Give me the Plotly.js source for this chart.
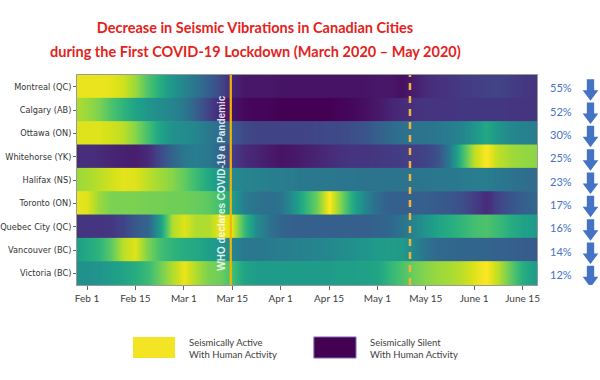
<!DOCTYPE html>
<html>
<head>
<meta charset="utf-8">
<script src="https://cdn.plot.ly/plotly-3.0.1.min.js"></script>
<style>html,body{margin:0;padding:0;background:#fff;}#chart{width:600px;height:380px;}</style>
</head>
<body>
<div id="chart"></div>
<script>
// ---- Data ----
const cities = ['Montreal (QC)', 'Calgary (AB)', 'Ottawa (ON)', 'Whitehorse (YK)', 'Halifax (NS)',
                'Toronto (ON)', 'Quebec City (QC)', 'Vancouver (BC)', 'Victoria (BC)'];
const decreasePct = ['55%', '52%', '30%', '25%', '23%', '17%', '16%', '14%', '12%'];
const tickLabels = ['Feb 1', 'Feb 15', 'Mar 1', 'Mar 15', 'Apr 1', 'Apr 15', 'May 1', 'May 15', 'June 1', 'June 15'];

// normalized seismic vibration level (0 = silent, 1 = active), ~3.5-day samples from late Jan to mid June
const montreal   = [0.97,0.97,0.97,0.96,0.93,0.85,0.72,0.62,0.52,0.45,0.38,0.30,0.22,0.10,0.06,0.06,0.06,0.05,0.05,0.05,0.05,0.05,0.05,0.05,0.05,0.06,0.06,0.04,0.08,0.12,0.14,0.15,0.17,0.18,0.19,0.20,0.18,0.16,0.15];
const calgary    = [0.88,0.85,0.80,0.72,0.65,0.58,0.52,0.48,0.45,0.40,0.30,0.20,0.10,0.05,0.02,0.01,0.01,0.00,0.00,0.00,0.00,0.00,0.01,0.02,0.04,0.06,0.10,0.12,0.14,0.15,0.15,0.15,0.16,0.16,0.16,0.16,0.15,0.15,0.15];
const ottawa     = [0.95,0.95,0.95,0.93,0.90,0.82,0.70,0.58,0.50,0.48,0.45,0.40,0.35,0.28,0.22,0.20,0.20,0.20,0.20,0.20,0.21,0.22,0.22,0.24,0.26,0.30,0.34,0.37,0.38,0.38,0.40,0.42,0.45,0.52,0.60,0.52,0.46,0.44,0.42];
const whitehorse = [0.12,0.13,0.12,0.10,0.09,0.08,0.12,0.22,0.32,0.40,0.42,0.40,0.32,0.18,0.12,0.10,0.07,0.05,0.06,0.08,0.10,0.12,0.14,0.15,0.15,0.16,0.17,0.18,0.18,0.20,0.25,0.42,0.68,0.90,1.00,0.90,0.86,0.84,0.83];
const halifax    = [0.85,0.87,0.90,0.93,0.96,0.95,0.90,0.86,0.82,0.76,0.68,0.60,0.52,0.47,0.45,0.44,0.43,0.42,0.41,0.40,0.40,0.40,0.39,0.39,0.38,0.38,0.38,0.38,0.38,0.39,0.40,0.40,0.41,0.42,0.42,0.40,0.38,0.36,0.35];
const toronto    = [0.97,0.95,0.85,0.80,0.80,0.80,0.79,0.79,0.78,0.78,0.77,0.75,0.70,0.55,0.42,0.38,0.36,0.38,0.50,0.65,0.78,1.00,0.80,0.60,0.45,0.35,0.30,0.30,0.30,0.30,0.28,0.27,0.24,0.18,0.12,0.20,0.26,0.30,0.33];
const quebecCity = [0.15,0.15,0.15,0.16,0.20,0.28,0.32,0.55,0.88,0.95,0.88,0.88,0.97,0.95,0.68,0.48,0.38,0.32,0.30,0.30,0.30,0.30,0.30,0.30,0.30,0.31,0.33,0.38,0.45,0.52,0.58,0.62,0.66,0.70,0.72,0.68,0.62,0.57,0.55];
const vancouver  = [0.55,0.60,0.65,0.75,0.90,0.95,0.80,0.70,0.65,0.62,0.60,0.56,0.52,0.45,0.40,0.40,0.41,0.42,0.43,0.44,0.45,0.46,0.48,0.50,0.52,0.54,0.55,0.54,0.45,0.38,0.34,0.33,0.32,0.32,0.32,0.31,0.30,0.29,0.28];
const victoria   = [0.50,0.50,0.52,0.55,0.58,0.62,0.68,0.78,0.88,0.97,0.88,0.80,0.78,0.70,0.58,0.55,0.55,0.55,0.55,0.55,0.55,0.55,0.56,0.56,0.57,0.58,0.66,0.72,0.78,0.82,0.85,0.87,0.90,0.95,1.00,0.90,0.75,0.62,0.55];
const cityRows = [montreal, calgary, ottawa, whitehorse, halifax, toronto, quebecCity, vancouver, victoria];

const whoDeclaration = 12.88;   // Mar 11 on the sample grid
const lockdownEase   = 27.69;   // early May on the sample grid
const whoText = 'WHO declares COVID-19 a Pandemic';

// ---- Build ----
const sampleIdx = montreal.map((_, k) => k);
const tickIdx = tickLabels.map((_, i) => 1 + 4 * i);

const traces = cityRows.map((row, i) => ({
  type: 'heatmap',
  x: sampleIdx,
  y: [i - 0.26, i + 0.26],
  z: [row, row],
  coloraxis: 'coloraxis',
  zsmooth: 'best',
  hoverinfo: 'skip'
}));

const blue = '#4472c4';
const shapes = [
  {type: 'line', xref: 'x', yref: 'paper', x0: whoDeclaration, x1: whoDeclaration, y0: 0, y1: 1,
   line: {color: '#f5b400', width: 2.2}},
  {type: 'line', xref: 'x', yref: 'paper', x0: lockdownEase, x1: lockdownEase, y0: 0, y1: 1,
   line: {color: '#f2b43a', width: 2.5, dash: '7px,6px'}},
  // legend swatches
  {type: 'rect', xref: 'paper', yref: 'paper', x0: 0.1217, x1: 0.213, y0: -0.3476, y1: -0.2476,
   fillcolor: '#f3e424', line: {width: 0}},
  {type: 'rect', xref: 'paper', yref: 'paper', x0: 0.515, x1: 0.6065, y0: -0.3476, y1: -0.2476,
   fillcolor: '#440154', line: {width: 1, color: '#7a6aa8'}}
];

// down arrows next to each row
const cx = 1.1163, sw = 0.008, hw = 0.017;
cities.forEach((c, i) => {
  const t = i - 0.32, m = i + 0.15, b = i + 0.6;
  shapes.push({
    type: 'path', xref: 'paper', yref: 'y',
    path: `M ${cx - sw},${t} L ${cx + sw},${t} L ${cx + sw},${m} L ${cx + hw},${m} L ${cx},${b} L ${cx - hw},${m} L ${cx - sw},${m} Z`,
    fillcolor: blue, line: {width: 0}
  });
});

const annotations = [
  {text: 'during the First COVID-19 Lockdown (March 2020 \u2013 May 2020)', xref: 'paper', yref: 'paper',
   x: (255 - 77) / 460, y: (285 - 52) / 210, xanchor: 'center', yanchor: 'middle', showarrow: false,
   font: {family: 'Lato', size: 14.5, color: '#e3231b', weight: 'bold'}},
  {text: whoText, xref: 'x', yref: 'paper', x: whoDeclaration, xshift: -9, y: 0.486,
   textangle: -90, showarrow: false, xanchor: 'center', yanchor: 'middle',
   font: {family: 'Liberation Sans', size: 10, color: 'rgba(255,255,255,0.85)', weight: 'bold'}},
  {text: 'Seismically Active<br>With Human Activity', xref: 'paper', yref: 'paper', x: 0.239, y: -0.302,
   xanchor: 'left', yanchor: 'middle', align: 'left', showarrow: false,
   font: {family: 'Lato', size: 9.5, color: '#404040'}},
  {text: 'Seismically Silent<br>With Human Activity', xref: 'paper', yref: 'paper', x: 0.632, y: -0.302,
   xanchor: 'left', yanchor: 'middle', align: 'left', showarrow: false,
   font: {family: 'Lato', size: 9.5, color: '#404040'}}
];
decreasePct.forEach((p, i) => {
  annotations.push({text: p, xref: 'paper', yref: 'y', x: 1.052, y: i + 0.05, xanchor: 'center',
    yanchor: 'middle', showarrow: false, font: {family: 'Lato', size: 11, color: blue}});
});

const layout = {
  width: 600, height: 380,
  margin: {l: 77, r: 63, t: 75, b: 95},
  paper_bgcolor: '#ffffff', plot_bgcolor: '#ffffff',
  title: {text: 'Decrease in Seismic Vibrations in Canadian Cities', xref: 'paper', x: (255 - 77) / 460,
          xanchor: 'center', yref: 'container', y: 1 - 28 / 380, yanchor: 'middle',
          font: {family: 'Lato', size: 14.5, color: '#e3231b', weight: 'bold'}},
  coloraxis: {colorscale: 'Viridis', cmin: 0, cmax: 1, showscale: false},
  xaxis: {range: [0.17, 38.19], tickvals: tickIdx, ticktext: tickLabels, showgrid: false, zeroline: false,
          ticks: 'outside', ticklen: 4, tickcolor: '#666', showline: true, mirror: true, linecolor: '#9a9a9a',
          linewidth: 1, tickfont: {family: 'Lato', size: 10, color: '#404040'}},
  yaxis: {range: [8.5, -0.5], tickvals: cities.map((_, i) => i), ticktext: cities, showgrid: false,
          zeroline: false, ticks: 'outside', ticklen: 3, tickcolor: '#666', showline: true, mirror: true,
          linecolor: '#9a9a9a', linewidth: 1, ticklabelstandoff: 0,
          tickfont: {family: 'DejaVu Sans', size: 8.2, color: '#333'}},
  shapes: shapes,
  annotations: annotations,
  showlegend: false
};

Plotly.newPlot('chart', traces, layout, {displayModeBar: false, staticPlot: true});
</script>
</body>
</html>
